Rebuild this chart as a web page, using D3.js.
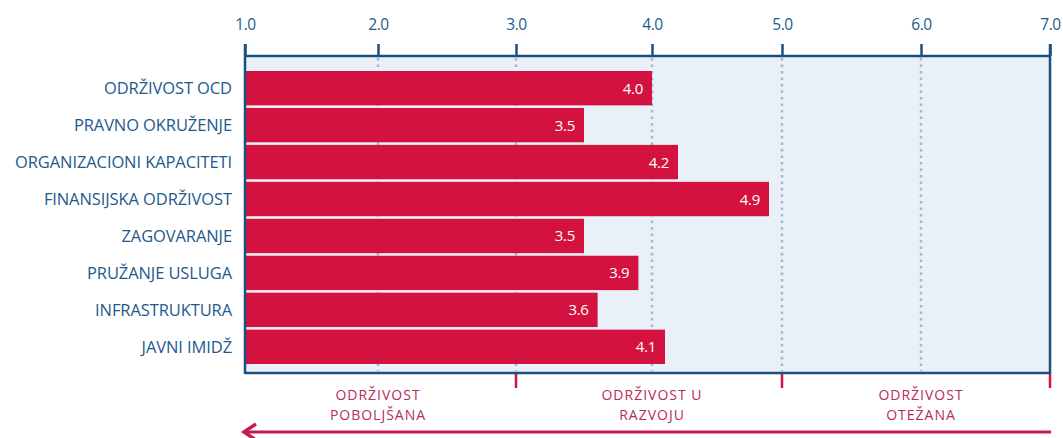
<!DOCTYPE html>
<html><head><meta charset="utf-8">
<script src="https://cdn.jsdelivr.net/npm/d3@7"></script>
<style>
html,body{margin:0;padding:0;background:#fff;}
svg{display:block;}
</style></head>
<body>
<svg id="chart" width="1063" height="438"></svg>
<script>
const categories = ["ODRŽIVOST OCD","PRAVNO OKRUŽENJE","ORGANIZACIONI KAPACITETI","FINANSIJSKA ODRŽIVOST","ZAGOVARANJE","PRUŽANJE USLUGA","INFRASTRUKTURA","JAVNI IMIDŽ"];
const values = [4.0,3.5,4.2,4.9,3.5,3.9,3.6,4.1];
const tickValues = [1,2,3,4,5,6,7];
const zoneBreaks = [3,5,7];
const zoneLabels = [["ODRŽIVOST","POBOLJŠANA"],["ODRŽIVOST U","RAZVOJU"],["ODRŽIVOST","OTEŽANA"]];
const zoneCenters = [2,4,6];

const svg = d3.select("#chart");
const navy = "#1b4f80", red = "#d3123f", labelBlue = "#1e5a8c", zoneRed = "#b62d55";
const font = "'Open Sans', 'Noto Sans', sans-serif";

const x = d3.scaleLinear().domain(tickValues).range([245,378,516,652,782,921,1050]);
const y = d3.scaleBand().domain(categories).range([71,364]).paddingInner(0.07).paddingOuter(0.0);
const plotTop = 56, plotBottom = 373;

// background
svg.append("rect").attr("x",x(1)).attr("y",plotTop).attr("width",x(7)-x(1)).attr("height",plotBottom-plotTop).attr("fill","#e9f0f8");

// dotted gridlines
svg.append("g").selectAll("line").data(tickValues.filter(d=>d>1&&d<7)).join("line")
  .attr("x1",d=>x(d)).attr("x2",d=>x(d)).attr("y1",plotTop+2).attr("y2",plotBottom-2)
  .attr("stroke","#9fb8d4").attr("stroke-width",2.5).attr("stroke-dasharray","2.5,4");

// bars
svg.append("g").selectAll("rect").data(values).join("rect")
  .attr("x",x(1)).attr("y",(d,i)=>y(categories[i]))
  .attr("width",d=>x(d)-x(1)).attr("height",y.bandwidth()).attr("fill",red);

// value labels
svg.append("g").selectAll("text").data(values).join("text")
  .attr("x",d=>x(d)-9).attr("y",(d,i)=>y(categories[i])+y.bandwidth()/2+5.5)
  .attr("text-anchor","end").attr("fill","#fff").attr("font-family",font).attr("font-size",15)
  .attr("letter-spacing","-0.3")
  .text(d=>d.toFixed(1));

// top axis
const axisTop = d3.axisTop(x).tickValues(tickValues).tickFormat(d3.format(".1f")).tickSize(12).tickPadding(14);
const gT = svg.append("g").attr("transform",`translate(0,${plotTop})`).call(axisTop);
gT.select(".domain").remove();
gT.selectAll(".tick line").attr("stroke",navy).attr("stroke-width",2.5);
gT.selectAll(".tick text").attr("fill",labelBlue).attr("font-family",font).attr("font-size",15.5).attr("letter-spacing","-0.4");

// frame
svg.append("line").attr("x1",x(1)).attr("x2",x(7)).attr("y1",plotTop).attr("y2",plotTop).attr("stroke",navy).attr("stroke-width",2.5);
svg.append("line").attr("x1",x(1)).attr("x2",x(7)).attr("y1",plotBottom).attr("y2",plotBottom).attr("stroke",navy).attr("stroke-width",2.5);
svg.append("line").attr("x1",x(1)).attr("x2",x(1)).attr("y1",plotTop-12).attr("y2",plotBottom+1).attr("stroke",navy).attr("stroke-width",2.5);
svg.append("line").attr("x1",x(7)).attr("x2",x(7)).attr("y1",plotTop-12).attr("y2",plotBottom+1).attr("stroke",navy).attr("stroke-width",2.5);

// category labels
svg.append("g").selectAll("text").data(categories).join("text")
  .attr("x",232).attr("y",d=>y(d)+y.bandwidth()/2+6)
  .attr("text-anchor","end").attr("fill",labelBlue).attr("font-family",font).attr("font-size",16.5)
  .attr("letter-spacing","-0.1")
  .text(d=>d);

// bottom zone ticks
svg.append("g").selectAll("line").data(zoneBreaks).join("line")
  .attr("x1",d=>x(d)).attr("x2",d=>x(d)).attr("y1",plotBottom+1).attr("y2",plotBottom+15)
  .attr("stroke",red).attr("stroke-width",2.5);

// zone labels
const zl = svg.append("g").selectAll("text").data(zoneLabels).join("text")
  .attr("text-anchor","middle").attr("fill",zoneRed).attr("font-family",font).attr("font-size",14)
  .attr("letter-spacing","1");
zl.each(function(d,i){
  const t = d3.select(this);
  d.forEach((line,j)=>{
    t.append("tspan").attr("x",x(zoneCenters[i])).attr("y",400+j*19.5).text(line);
  });
});

// arrow
svg.append("line").attr("x1",x(1)).attr("x2",x(7)+1).attr("y1",432).attr("y2",432).attr("stroke","#c41d4c").attr("stroke-width",3);
svg.append("path").attr("d",`M${x(1)+11},${424} L${x(1)-1},${432} L${x(1)+11},${440}`)
  .attr("fill","none").attr("stroke","#c41d4c").attr("stroke-width",3.5);
</script>
</body></html>
